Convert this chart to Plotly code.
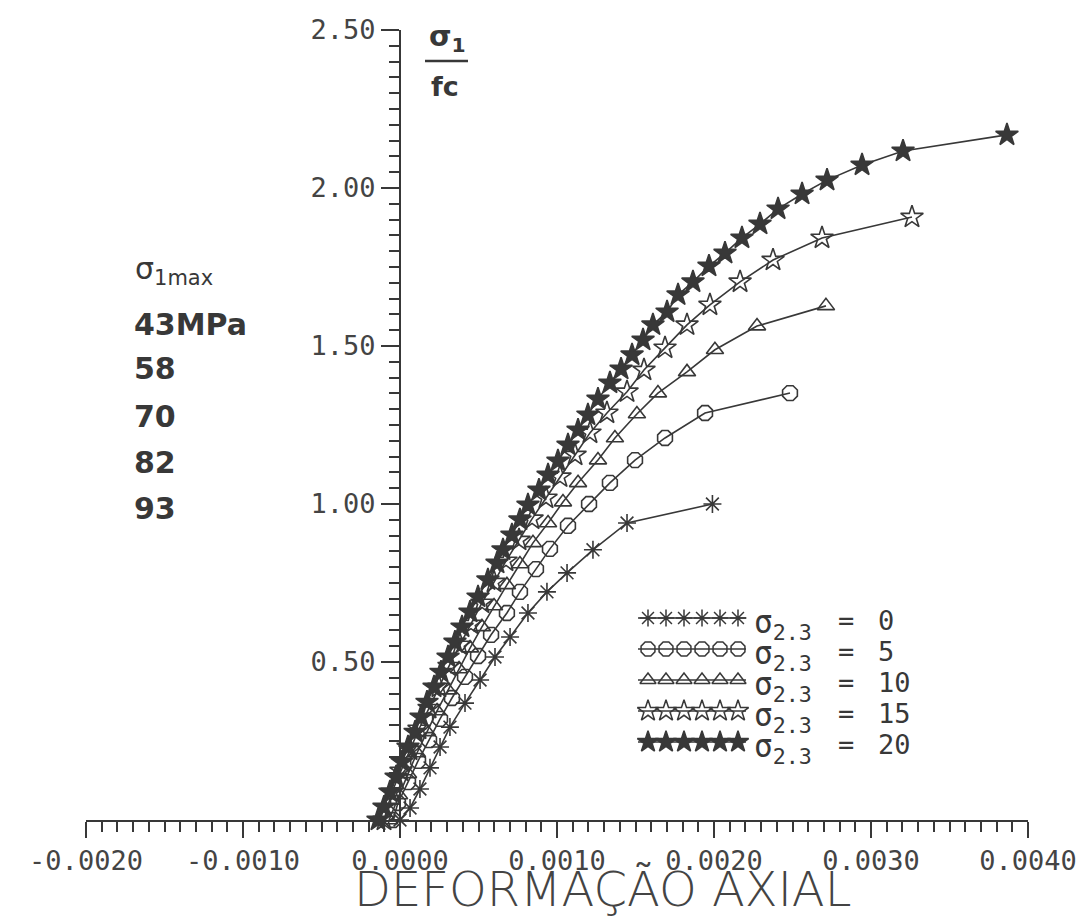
import plotly.graph_objects as go

INK = "#383838"
MONO = "DejaVu Sans Mono"

# Axial strain and normalised axial stress (sigma1 / fc) for each confinement level
strain_c0 = [0, 0.000064, 0.000127, 0.000191, 0.000255, 0.000318, 0.000414, 0.000510,
             0.000605, 0.000701, 0.000815, 0.000936, 0.001064, 0.001229, 0.001446, 0.00199]
stress_c0 = [0, 0.038, 0.098, 0.165, 0.231, 0.294, 0.370, 0.443,
             0.516, 0.579, 0.655, 0.722, 0.782, 0.855, 0.940, 1.000]

strain_c5 = [-0.000045, -0.000013, 0.000051, 0.000115, 0.000185, 0.000255, 0.000331,
             0.000414, 0.000497, 0.000580, 0.000681, 0.000764, 0.000866, 0.000955,
             0.001070, 0.001204, 0.001337, 0.001497, 0.001688, 0.001943, 0.002484]
stress_c5 = [0, 0.054, 0.120, 0.187, 0.253, 0.320, 0.386,
             0.453, 0.519, 0.586, 0.655, 0.722, 0.794, 0.858,
             0.931, 1.000, 1.067, 1.139, 1.209, 1.288, 1.351]

strain_c10 = [-0.000070, -0.000006, 0.000051, 0.000108, 0.000172, 0.000236, 0.000306,
              0.000376, 0.000446, 0.000522, 0.000599, 0.000681, 0.000764, 0.000847,
              0.000943, 0.001038, 0.001134, 0.001261, 0.001369, 0.001509, 0.001643,
              0.001828, 0.002006, 0.002274, 0.002713]
stress_c10 = [0, 0.079, 0.146, 0.212, 0.279, 0.345, 0.411,
              0.478, 0.544, 0.611, 0.677, 0.744, 0.810, 0.877,
              0.940, 1.006, 1.067, 1.139, 1.209, 1.285, 1.351,
              1.418, 1.488, 1.563, 1.627]

strain_c15 = [-0.000102, -0.000051, 0.000006, 0.000064, 0.000121, 0.000185, 0.000248,
              0.000312, 0.000382, 0.000452, 0.000522, 0.000599, 0.000675, 0.000758,
              0.000841, 0.000930, 0.001019, 0.001115, 0.001210, 0.001318, 0.001446,
              0.001554, 0.001688, 0.001828, 0.001974, 0.002166, 0.002376, 0.002688,
              0.003261]
stress_c15 = [0, 0.089, 0.155, 0.222, 0.288, 0.354, 0.421,
              0.487, 0.554, 0.620, 0.687, 0.753, 0.820, 0.886,
              0.953, 1.019, 1.086, 1.155, 1.225, 1.288, 1.355,
              1.424, 1.494, 1.567, 1.630, 1.703, 1.772, 1.842,
              1.908]

strain_c20 = [-0.000140, -0.000102, -0.000064, -0.000025, 0.000013, 0.000051, 0.000096,
              0.000134, 0.000172, 0.000217, 0.000261, 0.000306, 0.000350, 0.000395,
              0.000446, 0.000497, 0.000560, 0.000618, 0.000656, 0.000713, 0.000764,
              0.000815, 0.000885, 0.000943, 0.001006, 0.001070, 0.001134, 0.001197,
              0.001261, 0.001337, 0.001408, 0.001478, 0.001548, 0.001611, 0.001701,
              0.001771, 0.001866, 0.001968, 0.002070, 0.002178, 0.002293, 0.002408,
              0.002561, 0.002720, 0.002943, 0.003204, 0.003866]
stress_c20 = [0, 0.041, 0.089, 0.136, 0.184, 0.231, 0.278,
              0.326, 0.373, 0.421, 0.468, 0.516, 0.563, 0.611,
              0.658, 0.706, 0.760, 0.813, 0.855, 0.902, 0.950,
              0.997, 1.044, 1.092, 1.136, 1.187, 1.234, 1.282,
              1.332, 1.383, 1.427, 1.472, 1.519, 1.567, 1.608,
              1.662, 1.703, 1.753, 1.794, 1.842, 1.886, 1.934,
              1.981, 2.025, 2.073, 2.117, 2.168]

confinement = ["0", "5", "10", "15", "20"]
sigma1_max = ["43MPa", "58", "70", "82", "93"]

x_tickvals = [-0.002, -0.001, 0.0, 0.001, 0.002, 0.003, 0.004]
x_ticktext = ["-0.0020", "-0.0010", "0.0000", "0.0010", "0.0020", "0.0030", "0.0040"]
y_tickvals = [0.5, 1.0, 1.5, 2.0, 2.5]
y_ticktext = ["0.50", "1.00", "1.50", "2.00", "2.50"]

series = [
    (strain_c0, stress_c0, "asterisk-open", 15),
    (strain_c5, stress_c5, "octagon-open", 16),
    (strain_c10, stress_c10, "triangle-up-open", 15),
    (strain_c15, stress_c15, "star-open", 17),
    (strain_c20, stress_c20, "star", 17),
]

# plot-area frame in page pixels
L, R, T, B = 86, 1028, 30, 820
W, H = 1092, 920


def px(x):
    return (x - L) / (R - L)


def py(y):
    return (B - y) / (B - T)


def label(x, y, text, size, family=MONO, xanchor="center", color=INK, weight=None):
    font = dict(family=family, size=size, color=color)
    if weight is not None:
        font["weight"] = weight
    return dict(x=px(x), y=py(y), xref="paper", yref="paper", xanchor=xanchor,
                yanchor="middle", text=text, showarrow=False, font=font)


fig = go.Figure()

for xs, ys, sym, size in series:
    fig.add_trace(go.Scatter(
        x=xs, y=ys, mode="lines+markers", cliponaxis=False, showlegend=False,
        line=dict(color=INK, width=1.6),
        marker=dict(symbol=sym, size=size, color=INK, line=dict(color=INK, width=1.6)),
    ))

# key: a short sample line with six symbols per confinement level (pixel frame axes)
key_x0, key_x1 = 638, 746
key_marks = [648, 666, 684, 702, 720, 738]
key_rows = [618, 649, 680, 711, 742]
for (xs, ys, sym, size), ry in zip(series, key_rows):
    fig.add_trace(go.Scatter(
        x=[key_x0, key_x1], y=[ry, ry], mode="lines", xaxis="x2", yaxis="y2",
        showlegend=False, hoverinfo="skip", line=dict(color=INK, width=1.6),
    ))
    fig.add_trace(go.Scatter(
        x=key_marks, y=[ry] * len(key_marks), mode="markers", xaxis="x2", yaxis="y2",
        showlegend=False, hoverinfo="skip",
        marker=dict(symbol=sym, size=size - 1, color=INK, line=dict(color=INK, width=1.5)),
    ))

annotations = []
for ry, lvl in zip(key_rows, confinement):
    annotations.append(label(752, ry + 6, "σ<sub>2.3</sub>", 31, xanchor="left"))
    annotations.append(label(846, ry + 2, "=", 27))
    annotations.append(label(876, ry + 2, lvl, 27, xanchor="left"))

# sigma1 / fc label beside the vertical axis
annotations.append(label(447, 38, "<b>σ<sub>1</sub></b>", 29, family="DejaVu Sans"))
annotations.append(label(445, 86, "<b>fc</b>", 27, family="DejaVu Sans"))

# peak stress column
annotations.append(label(133, 270, "σ<sub>1max</sub>", 30, family="DejaVu Sans", xanchor="left"))
for yy, s in zip([324, 369, 416, 462, 508], sigma1_max):
    annotations.append(label(132, yy, "<b>" + s + "</b>", 30, family="DejaVu Sans",
                             xanchor="left"))

# horizontal axis title
annotations.append(label(602, 889, "DEFORMAÇÃO AXIAL", 48, family="DejaVu Sans",
                         color="#444444", weight=200))

shapes = [dict(type="line", xref="paper", yref="paper", x0=px(425), x1=px(468),
               y0=py(61), y1=py(61), line=dict(color=INK, width=2.5))]

fig.update_layout(
    width=W, height=H,
    margin=dict(l=L, r=W - R, t=T, b=H - B, pad=0),
    paper_bgcolor="white", plot_bgcolor="rgba(0,0,0,0)",
    showlegend=False,
    xaxis=dict(
        range=[-0.002, 0.004], showgrid=False, zeroline=False, showline=True,
        linecolor=INK, linewidth=2, ticks="outside", ticklen=16, tickwidth=2, tickcolor=INK,
        tickvals=x_tickvals, ticktext=x_ticktext,
        tickfont=dict(family=MONO, size=27, color="#444444"),
        minor=dict(ticks="outside", tickmode="linear", tick0=-0.002, dtick=0.0001,
                   ticklen=10, tickwidth=1.5, tickcolor=INK, showgrid=False),
        anchor="y",
    ),
    yaxis=dict(
        range=[0, 2.5], showgrid=False, zeroline=False, showline=True,
        linecolor=INK, linewidth=2, ticks="outside", ticklen=18, tickwidth=2, tickcolor=INK,
        tickvals=y_tickvals, ticktext=y_ticktext,
        tickfont=dict(family=MONO, size=27, color="#444444"),
        minor=dict(ticks="outside", tickmode="linear", tick0=0, dtick=0.05,
                   ticklen=10, tickwidth=1.5, tickcolor=INK, showgrid=False),
        anchor="free", position=(400 - L) / (R - L),
    ),
    xaxis2=dict(range=[L, R], visible=False, overlaying="x", fixedrange=True),
    yaxis2=dict(range=[B, T], visible=False, overlaying="y", fixedrange=True),
    annotations=annotations,
    shapes=shapes,
)

fig.write_html("out.html")
